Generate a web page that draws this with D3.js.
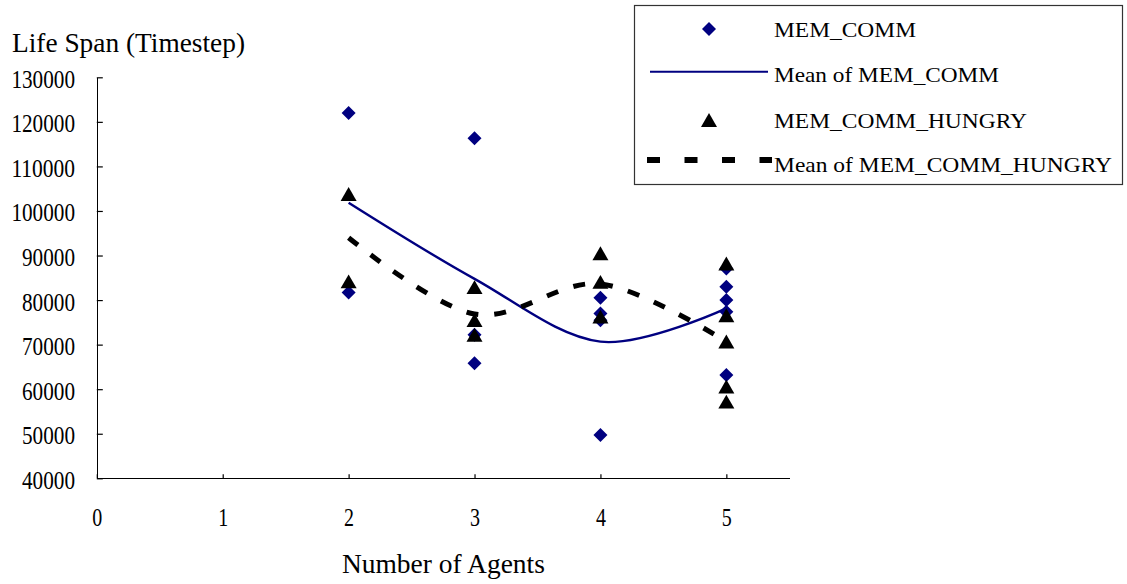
<!DOCTYPE html>
<html>
<head>
<meta charset="utf-8">
<script src="https://cdn.jsdelivr.net/npm/d3@7"></script>
<style>
  html, body { margin: 0; padding: 0; background: #fff; }
  svg { display: block; }
  text { font-family: "Liberation Serif", "Times New Roman", serif; fill: #000; }
</style>
</head>
<body>
<svg id="chart" width="1127" height="584"></svg>
<script>
// Number of agents on the x axis and tick values
const xTicks = [0, 1, 2, 3, 4, 5];
const yTicks = [40000, 50000, 60000, 70000, 80000, 90000, 100000, 110000, 120000, 130000];

// MEM_COMM runs: agent count and life span
const memCommX = [2, 2, 3, 3, 3, 4, 4, 4, 4, 5, 5, 5, 5, 5];
const memCommY = [122000, 81700, 116300, 72200, 65800, 80500, 77000, 75500, 49700, 87100, 83000, 80000, 77400, 63200];

// MEM_COMM_HUNGRY runs: agent count and life span
const hungryX = [2, 2, 3, 3, 3, 4, 4, 4, 5, 5, 5, 5, 5];
const hungryY = [103800, 84200, 82900, 75500, 72200, 90500, 84100, 76300, 88200, 76600, 70700, 60600, 57200];

const seriesNames = ["MEM_COMM", "Mean of MEM_COMM", "MEM_COMM_HUNGRY", "Mean of MEM_COMM_HUNGRY"];

const NAVY = "#000080";
const svg = d3.select("#chart");

const x = d3.scaleLinear().domain([0, 5.5]).range([96.8, 789.3]);
const y = d3.scaleLinear().domain([40000, 130000]).range([478.3, 77.3]);

// squeeze text to a given width
function fit(sel, w) {
  sel.attr("textLength", w).attr("lengthAdjust", "spacingAndGlyphs");
  return sel;
}

// marker shapes
const diamond = {
  draw(ctx, size) {
    const r = Math.sqrt(size / 2);
    ctx.moveTo(0, -r); ctx.lineTo(r, 0); ctx.lineTo(0, r); ctx.lineTo(-r, 0); ctx.closePath();
  }
};
const triangle = {
  draw(ctx, size) {
    const s = Math.sqrt(size * 4 / Math.sqrt(3));
    const h = s * Math.sqrt(3) / 2;
    ctx.moveTo(0, -h / 2); ctx.lineTo(s / 2, h / 2); ctx.lineTo(-s / 2, h / 2); ctx.closePath();
  }
};
const diamondPath = d3.symbol(diamond, 98)();
const trianglePath = d3.symbol(triangle, 111)();

// means per agent count
function means(xs, ys) {
  const groups = d3.rollup(d3.range(xs.length), idx => d3.mean(idx, i => ys[i]), i => xs[i]);
  return Array.from(groups, ([k, v]) => ({ x: k, y: v })).sort((a, b) => a.x - b.x);
}
const memCommMean = means(memCommX, memCommY);
const hungryMean = means(hungryX, hungryY);

// axes
const yAxis = d3.axisLeft(y).tickValues(yTicks).tickSizeInner(-6).tickSizeOuter(0).tickFormat(d3.format("d"));
const gy = svg.append("g").attr("transform", `translate(${x(0)},0)`).call(yAxis);
gy.select(".domain").attr("stroke", "#000").attr("stroke-width", 1.3);
gy.selectAll(".tick line").attr("stroke", "#000").attr("stroke-width", 1.2);
gy.selectAll(".tick text")
  .attr("x", 75 - x(0)).attr("dy", null).attr("y", 10)
  .attr("text-anchor", "end").attr("font-size", 25).attr("font-family", null)
  .each(function (d) { fit(d3.select(this), String(d).length * 10.6); });

const xAxis = d3.axisBottom(x).tickValues(xTicks).tickSizeInner(-4).tickSizeOuter(0).tickFormat(d3.format("d"));
const gx = svg.append("g").attr("transform", `translate(0,${y(40000)})`).call(xAxis);
gx.select(".domain").attr("stroke", "#000").attr("stroke-width", 1.3);
gx.selectAll(".tick line").attr("stroke", "#000").attr("stroke-width", 1.2);
gx.selectAll(".tick text")
  .attr("y", 526 - y(40000)).attr("dy", null)
  .attr("font-size", 25).attr("font-family", null)
  .each(function () { fit(d3.select(this), 10); });
svg.selectAll(".domain").attr("shape-rendering", "crispEdges");

// axis titles
fit(svg.append("text").attr("x", 12).attr("y", 52).attr("font-size", 27).text("Life Span (Timestep)"), 233);
fit(svg.append("text").attr("x", 443.4).attr("y", 573).attr("text-anchor", "middle").attr("font-size", 27).text("Number of Agents"), 203);

// series: points, mean curve, points, mean curve
const curve = d3.curveCardinal.tension(0);
const line = d3.line().x(d => x(d.x)).y(d => y(d.y)).curve(curve);

svg.append("g").selectAll("path")
  .data(d3.range(memCommX.length))
  .join("path")
  .attr("d", diamondPath)
  .attr("transform", i => `translate(${x(memCommX[i])},${y(memCommY[i])})`)
  .attr("fill", NAVY);

svg.append("path")
  .datum(memCommMean)
  .attr("d", line)
  .attr("fill", "none").attr("stroke", NAVY).attr("stroke-width", 2.4);

svg.append("g").selectAll("path")
  .data(d3.range(hungryX.length))
  .join("path")
  .attr("d", trianglePath)
  .attr("transform", i => `translate(${x(hungryX[i])},${y(hungryY[i])})`)
  .attr("fill", "#000");

svg.append("path")
  .datum(hungryMean)
  .attr("d", line)
  .attr("fill", "none").attr("stroke", "#000").attr("stroke-width", 5)
  .attr("stroke-dasharray", "12,16");

// legend
const legend = svg.append("g");
legend.append("rect")
  .attr("x", 634.5).attr("y", 5.5).attr("width", 488).attr("height", 179)
  .attr("fill", "#fff").attr("stroke", "#333").attr("stroke-width", 1.2);

const legendBase = [37.3, 81.7, 128, 171.7];
const legendWidth = [142, 225, 253, 338];
seriesNames.forEach((name, i) => {
  fit(legend.append("text").attr("x", 774).attr("y", legendBase[i]).attr("font-size", 22).text(name), legendWidth[i]);
});
legend.append("path").attr("d", diamondPath).attr("transform", "translate(709,29)").attr("fill", NAVY);
legend.append("line").attr("x1", 650).attr("x2", 768).attr("y1", 71.7).attr("y2", 71.7)
  .attr("stroke", NAVY).attr("stroke-width", 2);
legend.append("path").attr("d", trianglePath).attr("transform", "translate(709,120)").attr("fill", "#000");
legend.append("line").attr("x1", 647).attr("x2", 772).attr("y1", 160).attr("y2", 160)
  .attr("stroke", "#000").attr("stroke-width", 6).attr("stroke-dasharray", "13,24.5");
</script>
</body>
</html>
